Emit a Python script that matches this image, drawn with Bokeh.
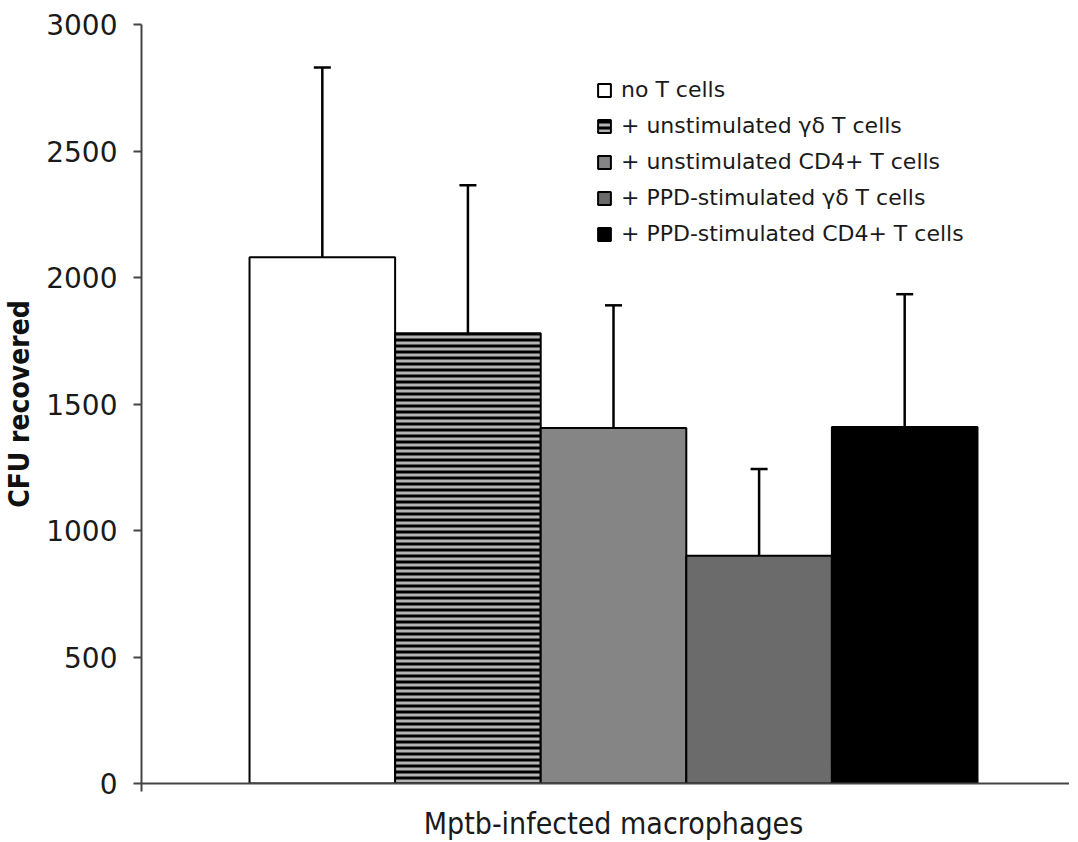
from bokeh.plotting import figure
from bokeh.models import (ColumnDataSource, Range1d, Whisker, TeeHead, Legend,
                          LegendItem, FixedTicker)
from bokeh.embed import file_html
from bokeh.resources import INLINE

# ---- data ----
groups = ["no T cells",
          "+ unstimulated \u03b3\u03b4 T cells",
          "+ unstimulated CD4+ T cells",
          "+ PPD-stimulated \u03b3\u03b4 T cells",
          "+ PPD-stimulated CD4+ T cells"]
means = [2080, 1780, 1405, 900, 1409]
errors = [750, 585, 485, 343, 525]
y_ticks = [0, 500, 1000, 1500, 2000, 2500, 3000]
x_category = "Mptb-infected macrophages"

# ---- styles ----
fills = ["#ffffff", "#b4b4b4", "#858585", "#6b6b6b", "#000000"]
hatches = [" ", "horizontal_line", " ", " ", " "]

xs = list(range(1, len(groups) + 1))
src = ColumnDataSource(dict(
    x=xs, mean=means, upper=[m + e for m, e in zip(means, errors)],
    fill=fills, hatch=hatches, label=groups))

x_start, x_end = -0.242, 6.132
p = figure(frame_width=928, frame_height=759,
           x_range=Range1d(x_start, x_end), y_range=Range1d(0, 3000),
           output_backend="svg", toolbar_location=None,
           min_border_left=139, min_border_top=24, min_border_right=0,
           min_border_bottom=55)
p.background_fill_color = "white"
p.border_fill_color = "white"
p.outline_line_color = None
p.xgrid.visible = False
p.ygrid.visible = False

r = p.vbar(x="x", top="mean", bottom=0, width=1, source=src,
           fill_color="fill", hatch_pattern="hatch", hatch_color="black",
           hatch_scale=6, hatch_weight=3,
           line_color="black", line_width=2)

wh = Whisker(source=src, base="x", lower="mean", upper="upper",
             line_color="black", line_width=2.5,
             upper_head=TeeHead(size=17, line_width=2.5, line_color="black"),
             lower_head=None)
p.add_layout(wh)

items = [LegendItem(label=g, renderers=[r], index=i) for i, g in enumerate(groups)]
legend = Legend(items=items, location=(455, 537),
                border_line_color=None, background_fill_alpha=0,
                padding=0, margin=0, spacing=11,
                glyph_width=16, glyph_height=16, label_height=20,
                label_standoff=9, label_text_font="DejaVu Sans",
                label_text_font_size="22px", label_text_color="#1a1a1a")
p.add_layout(legend)

axis_col = "#444444"
ya = p.yaxis[0]
ya.ticker = FixedTicker(ticks=y_ticks)
ya.axis_line_color = axis_col
ya.axis_line_width = 2
ya.major_tick_line_color = axis_col
ya.major_tick_line_width = 2
ya.major_tick_out = 8
ya.major_tick_in = 0
ya.minor_tick_line_color = None
ya.major_label_text_font = "DejaVu Sans"
ya.major_label_text_font_size = "28px"
ya.major_label_text_color = "#1a1a1a"
ya.major_label_standoff = 16
ya.axis_label = "CFU recovered"
ya.axis_label_text_font = "DejaVu Sans Condensed"
ya.axis_label_text_font_style = "bold"
ya.axis_label_text_font_size = "28px"
ya.axis_label_text_color = "#111111"
ya.axis_label_standoff = 7

xa = p.xaxis[0]
xa.ticker = FixedTicker(ticks=[3], minor_ticks=[x_start])
xa.major_label_overrides = {3: x_category}
xa.axis_line_color = axis_col
xa.axis_line_width = 2
xa.major_tick_out = 0
xa.major_tick_in = 0
xa.major_tick_line_color = None
xa.minor_tick_line_color = axis_col
xa.minor_tick_line_width = 2
xa.minor_tick_out = 8
xa.minor_tick_in = 0
xa.major_label_text_font = "DejaVu Sans Condensed"
xa.major_label_text_font_size = "30px"
xa.major_label_text_color = "#1a1a1a"
xa.major_label_standoff = 14

open("out.html", "w").write(file_html(p, INLINE))
